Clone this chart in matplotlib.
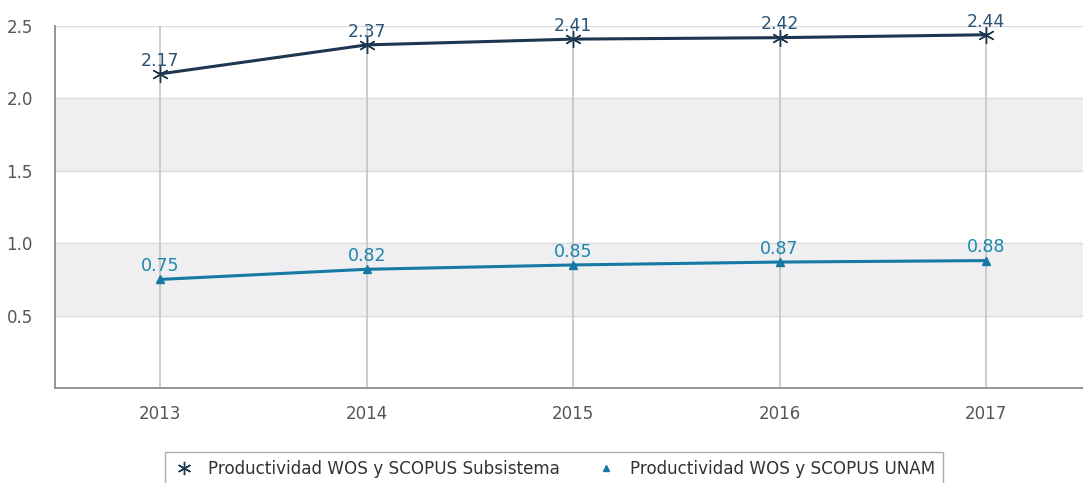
import matplotlib.pyplot as plt

# datos
anios = [2013, 2014, 2015, 2016, 2017]
subsistema = [2.17, 2.37, 2.41, 2.42, 2.44]
unam = [0.75, 0.82, 0.85, 0.87, 0.88]
etiquetas = ['Productividad WOS y SCOPUS Subsistema', 'Productividad WOS y SCOPUS UNAM']

c_sub = '#1d3750'
c_unam = '#1679a3'

fig = plt.figure(figsize=(10.83, 4.83), dpi=100)
ax = fig.add_axes([0.0508, 0.1967, 0.9492, 0.7493])

# bandas grises
for y0 in [0.5, 1.5]:
    ax.axhspan(y0, y0 + 0.5, color='#efeff2', zorder=0)
for y in [0.5, 1.0, 1.5, 2.0, 2.5]:
    ax.axhline(y, color='#dcdcdf', lw=1, zorder=1)
for x in anios:
    ax.axvline(x, color='#c4c4c4', lw=1.2, zorder=1)

ax.plot(anios, subsistema, color=c_sub, lw=2.2, marker=(6, 2, 0), ms=12,
        mew=1.0, label=etiquetas[0], zorder=3)
ax.plot(anios, unam, color=c_unam, lw=2.2, marker='^', ms=6,
        label=etiquetas[1], zorder=3)

for x, v in zip(anios, subsistema):
    ax.annotate(f'{v:.2f}', (x, v), xytext=(0, 3), textcoords='offset points',
                ha='center', va='bottom', fontsize=12.5, color='#2a5576')
for x, v in zip(anios, unam):
    ax.annotate(f'{v:.2f}', (x, v), xytext=(0, 3), textcoords='offset points',
                ha='center', va='bottom', fontsize=12.5, color='#1a86ab')

ax.set_xlim(2012.49, 2017.47)
ax.set_ylim(0, 2.5)
ax.set_xticks(anios)
ax.set_yticks([0.5, 1.0, 1.5, 2.0, 2.5])
ax.tick_params(length=0, labelsize=12, colors='#555555', pad=12)
ax.tick_params(axis='y', pad=16)
for s in ['top', 'right']:
    ax.spines[s].set_visible(False)
for s in ['left', 'bottom']:
    ax.spines[s].set_color('#8c8c8c')
    ax.spines[s].set_linewidth(1.3)

leg = fig.legend(loc='upper center', bbox_to_anchor=(0.512, 0.082), ncol=2,
                 frameon=True, fontsize=12.1, handlelength=1.2, columnspacing=2.2,
                 fancybox=False, borderpad=0.5, markerscale=0.8)
leg.get_frame().set_edgecolor('#999999')
for t in leg.get_texts():
    t.set_color('#333333')
for h in leg.legend_handles:
    h.set_linestyle('none')

fig.savefig('out.png', dpi=100)
